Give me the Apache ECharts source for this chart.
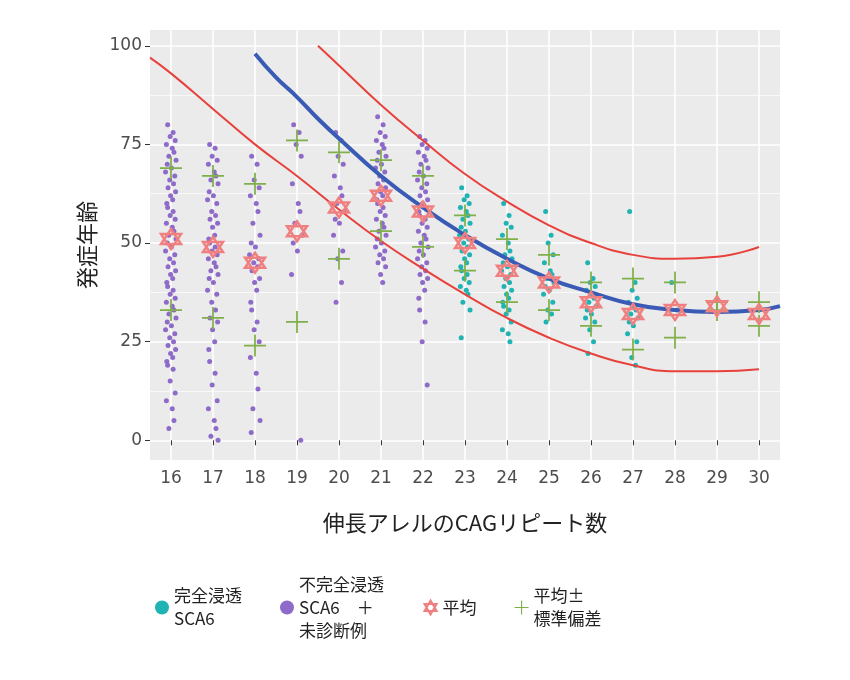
<!DOCTYPE html>
<html>
<head>
<meta charset="utf-8">
<script src="https://cdn.jsdelivr.net/npm/echarts@6/dist/echarts.min.js"></script>
<style>html,body{margin:0;padding:0;background:#fff}#main{width:850px;height:680px}</style>
</head>
<body>
<div id="main"></div>
<script>
var repeats = [16, 17, 18, 19, 20, 21, 22, 23, 24, 25, 26, 27, 28, 29, 30];
var yTicks = [0, 25, 50, 75, 100];
var yMinor = [12.5, 37.5, 62.5, 87.5];

// 不完全浸透 SCA6 + 未診断例 (16-22)
var incomplete = {
	16: [80,78,77,76,75,74,73,72,71,70,69,68,67,66,65,64,63,62,61,60,59,58,57,56,55,54,53,52,51,50,49,48,47,46,45,44,43,42,41,40,39,38,37,36,35,34,33,32,31,30,29,28,27,26,25,24,23,22,21,20,19,18,15,12,10,8,5,3],
	17: [75,74,72,71,70,68,67,66,65,63,62,61,60,58,57,56,55,54,52,51,50,49,48,47,46,45,44,43,42,41,40,38,37,35,33,31,30,28,25,23,20,17,14,10,8,5,3,1,0],
	18: [72,70,66,64,62,60,58,55,52,50,49,47,46,45,44,43,41,40,38,35,33,30,28,25,21,17,13,8,5,2],
	19: [80,78,75,72,65,60,58,55,52,50,48,42,0],
	20: [78,76,72,70,67,64,62,60,58,56,55,52,48,46,40,35],
	21: [82,80,78,77,76,75,74,73,72,71,70,69,68,67,66,65,64,63,62,61,60,59,58,57,56,55,54,53,52,51,50,49,48,47,46,45,44,42,40],
	22: [77,76,75,74,73,72,71,70,69,68,67,66,65,64,63,62,61,60,59,58,57,56,55,54,53,52,51,50,49,48,47,46,45,44,43,42,41,40,38,36,33,30,25,14]
};
// 完全浸透 SCA6 (23-28)
var complete = {
	23: [64,62,61,60,59,58,57,56,55,54,53,52,51,50,49,48,47,46,45,44,43,42,41,40,39,38,37,35,33,26],
	24: [60,57,55,54,52,50,48,47,46,45,44,43,42,41,40,39,38,37,36,35,34,33,32,30,28,27,25],
	25: [58,52,50,47,45,43,42,41,40,39,38,37,35,33,32,30],
	26: [45,41,40,39,38,37,36,35,34,33,32,31,30,28,25,22],
	27: [58,40,38,36,35,34,33,32,31,30,29,27,25,21,19],
	28: [40,33]
};
var jitter = [-0.08,0.05,-0.02,0.1,-0.11,0.03,0.07,-0.05,0.12,-0.09,0.01,-0.13,0.09,-0.03,0.06,-0.07,0.11,-0.01,0.04,-0.1];

var meanAge = [51, 49, 45, 53, 59, 62, 58, 50, 43, 40, 35, 32, 33, 34, 32];
var sdUpper = [69, 67, 65, 76, 73, 71, 67, 57, 51, 47, 40, 41, 40, 35, 35];
var sdLower = [33, 31, 24, 30, 46, 53, 49, 43, 35, 33, 29, 23, 26, 33, 29];

var fitX = [18, 18.5, 19, 19.5, 20, 21, 22, 23, 24, 25, 26, 27, 28, 29, 30, 30.5];
var fitY = [98, 92, 87, 81.5, 76.5, 67, 59, 52, 46, 41, 37.5, 34.5, 33, 32.5, 33, 34];
var upX = [19.5, 20, 21, 22, 23, 24, 25, 26, 27, 28, 29, 30];
var upY = [100, 95, 85, 76, 67.5, 60.5, 54.5, 50, 47, 46, 46.5, 49];
var loX = [15.5, 16, 17, 18, 19, 20, 21, 22, 23, 24, 25, 26, 27, 28, 29, 30];
var loY = [97, 93, 84, 75, 67, 58.5, 50.5, 43.5, 37, 31, 26, 22, 19, 17.5, 17.5, 18];

function toPoints(groups) {
	var out = [];
	Object.keys(groups).forEach(function (k) {
		groups[k].forEach(function (v, i) {
			out.push([Number(k) + jitter[i % jitter.length], v]);
		});
	});
	return out;
}
function zip(xs, ys) {
	return xs.map(function (x, i) { return [x, ys[i]]; });
}

var gridLines = [];
repeats.forEach(function (r) { gridLines.push({xAxis: r, lineStyle: {width: 1.5}}); });
yTicks.forEach(function (t) { gridLines.push({yAxis: t, lineStyle: {width: 1.5}}); });
yMinor.forEach(function (t) { gridLines.push({yAxis: t, lineStyle: {width: 0.7}}); });

var star = 'path://M0,-10L8.66,5L-8.66,5Z M0,10L8.66,-5L-8.66,-5Z';
var cross = 'path://M-0.8,-10L0.8,-10L0.8,-0.8L10,-0.8L10,0.8L0.8,0.8L0.8,10L-0.8,10L-0.8,0.8L-10,0.8L-10,-0.8L-0.8,-0.8Z';
var txt = '#4d4d4d';
var font = 'Noto Sans CJK JP';

var myChart = echarts.init(document.getElementById('main'));
var option = {
	animation: false,
	textStyle: {fontFamily: font},
	grid: {left: 150, right: 70, top: 30, bottom: 220, show: true, backgroundColor: '#ebebeb', borderWidth: 0},
	xAxis: {
		type: 'value', min: 15.5, max: 30.5,
		name: '伸長アレルのCAGリピート数', nameLocation: 'middle', nameGap: 52,
		nameTextStyle: {fontSize: 22, color: '#222'},
		axisLine: {show: false},
		axisTick: {show: true, customValues: repeats, length: 5, lineStyle: {color: '#333'}},
		axisLabel: {customValues: repeats, fontSize: 17, color: txt, margin: 10, fontFamily: 'DejaVu Sans'},
		splitLine: {show: false}
	},
	yAxis: {
		type: 'value', min: -5, max: 104,
		name: '発症年齢', nameLocation: 'middle', nameGap: 52, nameRotate: 90,
		nameTextStyle: {fontSize: 22, color: '#222'},
		axisLine: {show: false},
		axisTick: {show: true, customValues: yTicks, length: 5, lineStyle: {color: '#333'}},
		axisLabel: {customValues: yTicks, fontSize: 17, color: txt, margin: 8, fontFamily: 'DejaVu Sans'},
		splitLine: {show: false}
	},
	legend: {
		left: 150, top: 568, itemGap: 38, itemWidth: 14, itemHeight: 14,
		textStyle: {fontSize: 17, color: '#222', lineHeight: 23},
		data: [
			{name: '完全浸透\nSCA6', icon: 'circle', itemStyle: {color: '#1fb3b3'}},
			{name: '不完全浸透\nSCA6　＋\n未診断例', icon: 'circle', itemStyle: {color: '#8e6bc9'}},
			{name: '平均', icon: star},
			{name: '平均±\n標準偏差', icon: cross, itemStyle: {color: '#7fb04a'}}
		]
	},
	series: [
		{type: 'line', z: 0, data: [], markLine: {silent: true, z: 0, symbol: 'none', label: {show: false},
			lineStyle: {color: '#ffffff', type: 'solid'}, data: gridLines}},
		{name: '不完全浸透\nSCA6　＋\n未診断例', type: 'scatter', z: 3, symbolSize: 5, itemStyle: {color: '#8e6bc9', opacity: 1}, data: toPoints(incomplete)},
		{name: '完全浸透\nSCA6', type: 'scatter', z: 3, symbolSize: 5, itemStyle: {color: '#1fb3b3', opacity: 1}, data: toPoints(complete)},
		{type: 'line', z: 4, data: zip(upX, upY), smooth: true, showSymbol: false, lineStyle: {color: '#e8413c', width: 2}},
		{type: 'line', z: 4, data: zip(loX, loY), smooth: true, showSymbol: false, lineStyle: {color: '#e8413c', width: 2}},
		{type: 'line', z: 4, data: zip(fitX, fitY), smooth: true, showSymbol: false, lineStyle: {color: '#3a5bb5', width: 4}},
		{name: '平均±\n標準偏差', type: 'scatter', z: 5, symbol: cross, symbolSize: 22,
			itemStyle: {color: '#7fb04a', opacity: 1},
			data: zip(repeats, sdUpper).concat(zip(repeats, sdLower))},
		{name: '平均', type: 'scatter', z: 6, symbol: star, symbolSize: 20,
			itemStyle: {color: 'none', borderColor: '#f08080', borderWidth: 2.5, opacity: 1},
			data: zip(repeats, meanAge)}
	]
};
myChart.setOption(option);
</script>
</body>
</html>
